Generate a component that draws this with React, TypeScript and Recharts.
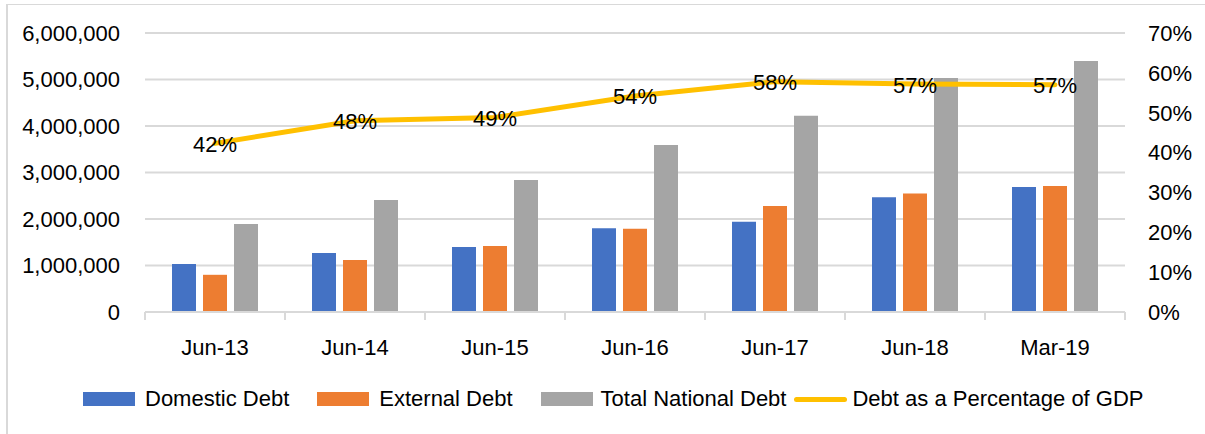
import React from 'react';
import { ComposedChart, Bar, Line, XAxis, YAxis, CartesianGrid, LabelList } from 'recharts';

const periods = ['Jun-13', 'Jun-14', 'Jun-15', 'Jun-16', 'Jun-17', 'Jun-18', 'Mar-19'];
const domesticDebt = [1030000, 1270000, 1400000, 1800000, 1940000, 2470000, 2690000];
const externalDebt = [800000, 1120000, 1420000, 1790000, 2280000, 2550000, 2710000];
const totalDebt = [1890000, 2410000, 2840000, 3590000, 4220000, 5030000, 5400000];
const debtToGdp = [42.3, 48.0, 48.8, 54.2, 57.8, 57.2, 57.0];

const leftTicks = [0, 1000000, 2000000, 3000000, 4000000, 5000000, 6000000];
const rightTicks = [0, 10, 20, 30, 40, 50, 60, 70];

const FONT = '"Liberation Sans", Arial, sans-serif';
const FS = 22;
const GRID = '#d9d9d9';

const colors = {
  domestic: '#4472c4',
  external: '#ed7d31',
  total: '#a5a5a5',
  gdp: '#ffc000',
};

const data = periods.map((p, i) => ({
  period: p,
  domestic: domesticDebt[i],
  external: externalDebt[i],
  total: totalDebt[i],
  gdp: debtToGdp[i],
}));

const CategoryTick = (props: any) => {
  const { x, y, payload, index } = props;
  const half = payload.offset || 70;
  const last = index === periods.length - 1;
  return (
    <g>
      <line x1={x - half} y1={y} x2={x - half} y2={y + 8} stroke={GRID} strokeWidth={2} />
      {last && <line x1={x + half} y1={y} x2={x + half} y2={y + 8} stroke={GRID} strokeWidth={2} />}
      <text x={x} y={y + 43} textAnchor="middle" fontSize={FS} fontFamily={FONT} fill="#000">
        {payload.value}
      </text>
    </g>
  );
};

const PctLabel = (props: any) => {
  const { x, y, value } = props;
  return (
    <text x={x} y={y} dy={1} textAnchor="middle" dominantBaseline="central" fontSize={FS} fontFamily={FONT} fill="#000">
      {Math.round(value)}%
    </text>
  );
};

const legendItems = [
  { name: 'Domestic Debt', color: colors.domestic, type: 'rect' },
  { name: 'External Debt', color: colors.external, type: 'rect' },
  { name: 'Total National Debt', color: colors.total, type: 'rect' },
  { name: 'Debt as a Percentage of GDP', color: colors.gdp, type: 'line' },
];

export default function App() {
  return (
    <div style={{ position: 'absolute', left: 0, top: 0, width: 1205, height: 434, background: '#fff', overflow: 'hidden', fontFamily: FONT }}>
      {/* frame of the original chart, cropped */}
      <div style={{ position: 'absolute', left: 6, top: 4, width: 1199, height: 1, background: GRID }} />
      <div style={{ position: 'absolute', left: 6, top: 4, width: 2, height: 430, background: GRID }} />

      <ComposedChart
        width={1205}
        height={434}
        data={data}
        margin={{ top: 33, right: 0, bottom: 82, left: 0 }}
        barGap={7}
        style={{ position: 'absolute', left: 0, top: 0 }}
      >
        <CartesianGrid yAxisId="left" vertical={false} stroke={GRID} strokeWidth={2} />
        <XAxis
          dataKey="period"
          height={40}
          tick={<CategoryTick />}
          tickLine={false}
          tickSize={0}
          tickMargin={0}
          axisLine={{ stroke: GRID, strokeWidth: 2 }}
          interval={0}
        />
        <YAxis
          yAxisId="left"
          width={145}
          domain={[0, 6000000]}
          ticks={leftTicks}
          tickFormatter={(v: number) => v.toLocaleString('en-US')}
          axisLine={false}
          tickLine={false}
          tickSize={0}
          tickMargin={25}
          tick={{ fontSize: FS, fill: '#000', fontFamily: FONT }}
        />
        <YAxis
          yAxisId="right"
          orientation="right"
          width={80}
          domain={[0, 70]}
          ticks={rightTicks}
          tickFormatter={(v: number) => `${v}%`}
          axisLine={false}
          tickLine={false}
          tickSize={0}
          tickMargin={23}
          tick={{ fontSize: FS, fill: '#000', fontFamily: FONT, textAnchor: 'start' }}
        />
        <Bar yAxisId="left" dataKey="domestic" name="Domestic Debt" fill={colors.domestic} barSize={24} isAnimationActive={false} />
        <Bar yAxisId="left" dataKey="external" name="External Debt" fill={colors.external} barSize={24} isAnimationActive={false} />
        <Bar yAxisId="left" dataKey="total" name="Total National Debt" fill={colors.total} barSize={24} isAnimationActive={false} />
        <Line
          yAxisId="right"
          dataKey="gdp"
          name="Debt as a Percentage of GDP"
          stroke={colors.gdp}
          strokeWidth={5}
          strokeLinecap="round"
          strokeLinejoin="round"
          type="linear"
          dot={false}
          activeDot={false}
          isAnimationActive={false}
        >
          <LabelList dataKey="gdp" content={<PctLabel />} />
        </Line>
      </ComposedChart>

      <div style={{ position: 'absolute', left: 83, top: 386, display: 'flex', alignItems: 'center', fontSize: FS, color: '#000', whiteSpace: 'nowrap' }}>
        {legendItems.map((item, i) => (
          <div key={item.name} style={{ display: 'flex', alignItems: 'center', marginRight: i < legendItems.length - 1 ? (i === 2 ? 8 : 28) : 0 }}>
            {item.type === 'rect' ? (
              <div style={{ width: 52, height: 14, background: item.color, marginRight: i === 2 ? 8 : 10 }} />
            ) : (
              <div style={{ width: 53, height: 5, borderRadius: 3, background: item.color, marginRight: 5 }} />
            )}
            <span>{item.name}</span>
          </div>
        ))}
      </div>
    </div>
  );
}
